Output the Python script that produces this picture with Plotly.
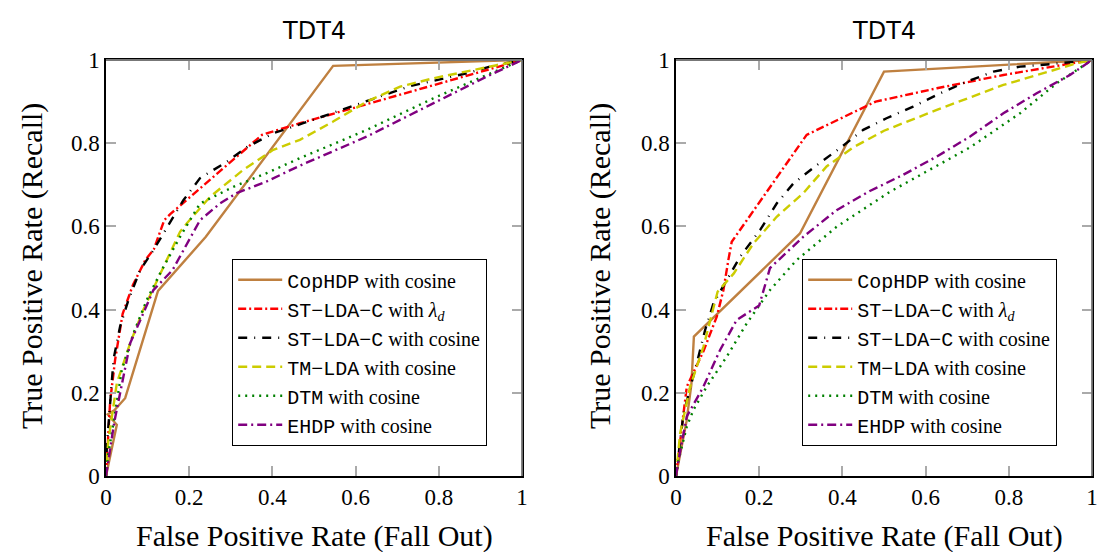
import plotly.graph_objects as go
from plotly.subplots import make_subplots

# ---------------- data ----------------
# Left panel
L_cop_x = [0, 0.026, 0.004, 0.02, 0.046, 0.125, 0.24, 0.546, 1]
L_cop_y = [0, 0.123, 0.148, 0.158, 0.187, 0.445, 0.575, 0.986, 1]
L_red_x = [0, 0.003, 0.01, 0.022, 0.04, 0.065, 0.095, 0.115, 0.14, 0.155, 0.375, 0.466, 1]
L_red_y = [0, 0.05, 0.18, 0.28, 0.39, 0.46, 0.52, 0.545, 0.615, 0.63, 0.82, 0.848, 1]
L_blk_x = [0, 0.002, 0.018, 0.034, 0.054, 0.082, 0.114, 0.15, 0.186, 0.226, 0.29, 0.338, 0.402, 0.474, 0.602, 0.73, 0.867, 0.93, 1]
L_blk_y = [0, 0.07, 0.28, 0.36, 0.423, 0.495, 0.543, 0.603, 0.663, 0.716, 0.755, 0.79, 0.824, 0.848, 0.892, 0.937, 0.968, 0.986, 1]
L_yel_x = [0, 0.005, 0.026, 0.058, 0.09, 0.134, 0.178, 0.194, 0.25, 0.33, 0.402, 0.466, 0.546, 0.627, 0.707, 0.787, 0.867, 0.963, 1]
L_yel_y = [0, 0.08, 0.223, 0.319, 0.4, 0.495, 0.587, 0.607, 0.671, 0.736, 0.784, 0.808, 0.852, 0.9, 0.936, 0.956, 0.972, 0.992, 1]
L_grn_x = [0, 0.005, 0.018, 0.038, 0.066, 0.098, 0.134, 0.178, 0.226, 0.306, 0.386, 0.466, 0.627, 0.787, 0.915, 1]
L_grn_y = [0, 0.05, 0.127, 0.255, 0.343, 0.423, 0.495, 0.575, 0.655, 0.695, 0.728, 0.764, 0.832, 0.908, 0.964, 1]
L_pur_x = [0, 0.006, 0.02, 0.058, 0.082, 0.114, 0.16, 0.186, 0.226, 0.274, 0.314, 0.386, 0.466, 0.627, 0.787, 0.915, 1]
L_pur_y = [0, 0.038, 0.13, 0.319, 0.375, 0.447, 0.495, 0.543, 0.615, 0.655, 0.68, 0.708, 0.746, 0.816, 0.896, 0.96, 1]

# Right panel
R_cop_x = [0, 0.025, 0.037, 0.043, 0.298, 0.5, 1]
R_cop_y = [0, 0.13, 0.22, 0.335, 0.583, 0.972, 1]
R_red_x = [0, 0.006, 0.018, 0.026, 0.038, 0.066, 0.098, 0.114, 0.126, 0.134, 0.314, 0.48, 0.627, 0.787, 1]
R_red_y = [0, 0.055, 0.15, 0.215, 0.24, 0.3, 0.383, 0.447, 0.52, 0.563, 0.82, 0.9, 0.932, 0.964, 1]
R_blk_x = [0, 0.01, 0.018, 0.054, 0.07, 0.09, 0.122, 0.154, 0.202, 0.242, 0.282, 0.338, 0.394, 0.45, 0.506, 0.57, 0.635, 0.699, 0.763, 0.827, 0.899, 1]
R_blk_y = [0, 0.08, 0.15, 0.287, 0.351, 0.415, 0.471, 0.527, 0.591, 0.655, 0.703, 0.747, 0.788, 0.832, 0.86, 0.888, 0.92, 0.948, 0.972, 0.984, 0.99, 1]
R_yel_x = [0, 0.01, 0.034, 0.066, 0.1, 0.139, 0.186, 0.242, 0.306, 0.362, 0.426, 0.5, 0.627, 0.787, 0.963, 1]
R_yel_y = [0, 0.103, 0.215, 0.311, 0.443, 0.487, 0.559, 0.623, 0.68, 0.744, 0.79, 0.83, 0.88, 0.94, 0.992, 1]
R_grn_x = [0, 0.006, 0.026, 0.042, 0.074, 0.122, 0.17, 0.226, 0.29, 0.386, 0.514, 0.707, 0.827, 0.915, 1]
R_grn_y = [0, 0.038, 0.119, 0.159, 0.215, 0.287, 0.367, 0.447, 0.519, 0.599, 0.683, 0.79, 0.872, 0.944, 1]
R_pur_x = [0, 0.006, 0.026, 0.066, 0.106, 0.146, 0.2, 0.226, 0.306, 0.386, 0.466, 0.546, 0.627, 0.707, 0.787, 0.867, 0.947, 1]
R_pur_y = [0, 0.038, 0.143, 0.215, 0.303, 0.375, 0.41, 0.5, 0.575, 0.639, 0.685, 0.724, 0.768, 0.816, 0.872, 0.92, 0.964, 1]

ticks = [0, 0.2, 0.4, 0.6, 0.8, 1]
tick_text = ["0", "0.2", "0.4", "0.6", "0.8", "1"]

SERIF = "Liberation Serif"
MONO = "Liberation Mono"

model_names = ["CopHDP", "ST\u2212LDA\u2212C", "ST\u2212LDA\u2212C", "TM\u2212LDA", "DTM", "EHDP"]
suffixes = [" with cosine", " with <i>λ</i><sub><i>d</i></sub>", " with cosine",
            " with cosine", " with cosine", " with cosine"]

def label(m, s):
    return f"<span style=\"font-family:{MONO}\">{m}</span>{s}"

styles = [
    dict(color="rgb(191,128,64)", dash="solid"),
    dict(color="rgb(255,0,0)", dash="8px,3px,2px,3px"),
    dict(color="rgb(0,0,0)", dash="9px,7px,1px,7px"),
    dict(color="rgb(204,204,0)", dash="9px,5px"),
    dict(color="rgb(0,128,0)", dash="2px,5px"),
    dict(color="rgb(128,0,128)", dash="9px,4px,2px,4px"),
]

left = [(L_cop_x, L_cop_y), (L_red_x, L_red_y), (L_blk_x, L_blk_y),
        (L_yel_x, L_yel_y), (L_grn_x, L_grn_y), (L_pur_x, L_pur_y)]
right = [(R_cop_x, R_cop_y), (R_red_x, R_red_y), (R_blk_x, R_blk_y),
         (R_yel_x, R_yel_y), (R_grn_x, R_grn_y), (R_pur_x, R_pur_y)]

fig = make_subplots(rows=1, cols=2)
W, H = 1105, 552
x0L, x1L, x0R, x1R = 106, 522, 676, 1092
yb, yt = 476, 60

for i, (xs, ys) in enumerate(left):
    fig.add_trace(go.Scatter(x=xs, y=ys, mode="lines", name=label(model_names[i], suffixes[i]),
                             line=dict(width=2.4, **styles[i]), legend="legend"), row=1, col=1)
for i, (xs, ys) in enumerate(right):
    fig.add_trace(go.Scatter(x=xs, y=ys, mode="lines", name=label(model_names[i], suffixes[i]),
                             line=dict(width=2.4, **styles[i]), legend="legend2"), row=1, col=2)

axis_common = dict(range=[0, 1], tickvals=ticks, ticktext=tick_text, ticks="inside",
                   ticklen=10, tickcolor="#aaaaaa", tickwidth=2, showgrid=False, zeroline=False,
                   showline=True, linecolor="black", linewidth=1.5, mirror="allticks",
                   automargin=False,
                   tickfont=dict(family=SERIF, size=23, color="black"))
fig.update_xaxes(**axis_common)
fig.update_yaxes(**axis_common)
fig.update_layout(
    xaxis=dict(domain=[x0L / W, x1L / W]),
    xaxis2=dict(domain=[x0R / W, x1R / W]),
    yaxis=dict(domain=[1 - yb / H, 1 - yt / H]),
    yaxis2=dict(domain=[1 - yb / H, 1 - yt / H]),
)

legend_common = dict(bgcolor="white", bordercolor="black", borderwidth=1.2,
                     font=dict(family=SERIF, size=20, color="black"),
                     xanchor="left", yanchor="top", itemwidth=44,
                     tracegroupgap=0)
fig.update_layout(
    legend=dict(x=232 / W, y=1 - 259 / H, **legend_common),
    legend2=dict(x=802 / W, y=1 - 259 / H, **legend_common),
)

ann = []
for cx in [(x0L + x1L) / 2, (x0R + x1R) / 2]:
    ann.append(dict(text="TDT4", x=cx / W, y=1 - 31 / H, xref="paper", yref="paper",
                    xanchor="center", yanchor="middle",
                    showarrow=False, font=dict(family="DejaVu Sans", size=24, color="black")))
    ann.append(dict(text="False Positive Rate (Fall Out)", x=cx / W, y=1 - 536 / H,
                    xref="paper", yref="paper", showarrow=False,
                    xanchor="center", yanchor="middle",
                    font=dict(family=SERIF, size=30, color="black")))
for cx in [32, 600]:
    ann.append(dict(text="True Positive Rate (Recall)", x=cx / W, y=1 - 266 / H,
                    xref="paper", yref="paper", showarrow=False, textangle=-90,
                    xanchor="center", yanchor="middle",
                    font=dict(family=SERIF, size=30, color="black")))

shapes = []
for (a, b) in [(x0L, x1L), (x0R, x1R)]:
    shapes.append(dict(type="line", xref="paper", yref="paper", x0=a / W, x1=b / W,
                       y0=1 - yt / H, y1=1 - yt / H, line=dict(color="#777777", width=1.8), layer="above"))
    shapes.append(dict(type="line", xref="paper", yref="paper", x0=b / W, x1=b / W,
                       y0=1 - yt / H, y1=1 - yb / H, line=dict(color="#777777", width=1.8), layer="above"))

fig.update_layout(width=W, height=H, margin=dict(l=0, r=0, t=0, b=0, autoexpand=False),
                  paper_bgcolor="white", plot_bgcolor="white",
                  font=dict(family=SERIF, color="black"),
                  annotations=ann, shapes=shapes)

fig.write_html("out.html", config={"displayModeBar": False},
               post_script="document.body.style.margin='0';")
